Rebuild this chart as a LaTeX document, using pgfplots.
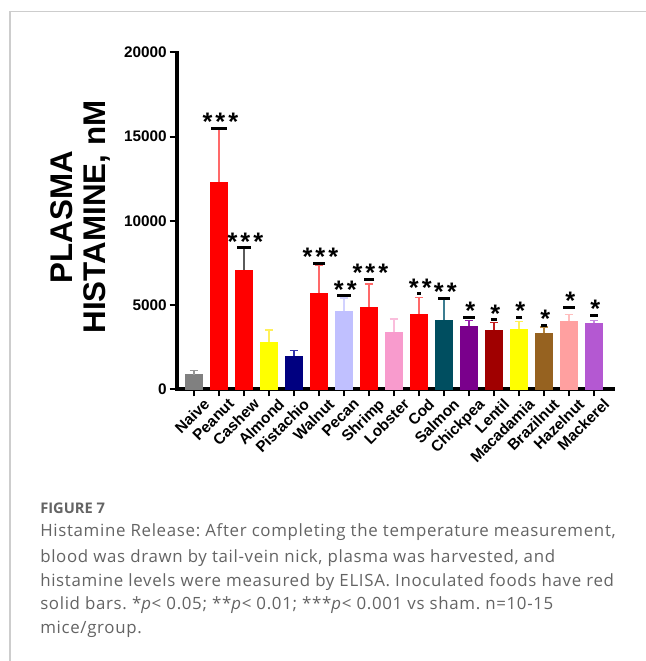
\documentclass[border=0pt]{standalone}
\usepackage{fontspec}
\setmainfont{Liberation Sans}
\newfontfamily\capfont[LetterSpace=4]{Open Sans}
\newfontfamily\capheadfont{Open Sans}
\newfontfamily\starfont[LetterSpace=12]{Liberation Sans}
\usepackage{pgfplots}
\pgfplotsset{compat=1.18}
\usepackage{pgfplotstable}
\frenchspacing

% bar fills and their error-bar tints
\definecolor{cNaive}{RGB}{128,128,128}  \definecolor{eNaive}{RGB}{150,150,150}
\definecolor{cRed}{RGB}{255,0,0}        \definecolor{eRed}{RGB}{255,105,105}
\definecolor{eCashew}{RGB}{90,90,90}
\definecolor{cYellow}{RGB}{255,255,0}   \definecolor{eYellow}{RGB}{255,240,90}
\definecolor{cNavy}{RGB}{0,0,128}       \definecolor{eNavy}{RGB}{50,50,170}
\definecolor{cPecan}{RGB}{192,192,255}  \definecolor{ePecan}{RGB}{210,210,255}
\definecolor{cLobster}{RGB}{248,155,205}\definecolor{eLobster}{RGB}{250,190,220}
\definecolor{cSalmon}{RGB}{0,78,96}     \definecolor{eSalmon}{RGB}{60,125,145}
\definecolor{cChick}{RGB}{122,0,140}    \definecolor{eChick}{RGB}{150,30,170}
\definecolor{cLentil}{RGB}{160,0,0}     \definecolor{eLentil}{RGB}{195,30,30}
\definecolor{cBrazil}{RGB}{150,98,32}   \definecolor{eBrazil}{RGB}{180,135,65}
\definecolor{cHazel}{RGB}{255,160,160}  \definecolor{eHazel}{RGB}{255,190,190}
\definecolor{cMack}{RGB}{180,88,210}    \definecolor{eMack}{RGB}{200,135,225}
\definecolor{frame}{RGB}{205,205,205}
\definecolor{captext}{RGB}{100,100,100}

% significance markers: position, half width of the dash (pt), stars
\pgfplotstableread{
x y hw s
1 15500 5.9 ***
2 8400 4.9 ***
5 7470 4.5 ***
6 5530 4.9 **
7 6520 4.1 ***
9 5650 1.4 **
10 5400 4.5 **
11 4260 4.3 *
12 4140 2.5 *
13 4260 2.5 *
14 3790 2.5 *
15 4860 4.2 *
16 4380 2.9 *
}\sigtable

% one bar with its upper error bar: x, mean, error, fill, error colour
\newcommand{\histbar}[5]{%
  \addplot[ybar, bar shift=0pt, bar width=12.5pt, fill=#4, draw=#4, line width=0.3pt,
    error bars/.cd, y dir=plus, y explicit,
    error bar style={draw=#5, line width=1.1pt},
    error mark options={draw=#5, rotate=90, mark size=3.1pt, line width=1.1pt}]
    coordinates {(#1,#2) +- (0,#3)};}

\begin{document}
\begin{tikzpicture}[x=0.75pt, y=0.75pt]
\path[use as bounding box, fill=white] (0,0) rectangle (646,661);
\draw[frame, line width=1pt] (10,0) -- (10,649.5) -- (646,649.5);

\begin{axis}[
  at={(132.75pt,204pt)}, anchor=south west,
  width=327pt, height=252.4pt, scale only axis,
  xmin=-0.68, xmax=16.76, ymin=0, ymax=20000,
  axis x line=bottom, axis y line=left,
  axis line style={-, line width=2.4pt, line cap=rect},
  tick align=outside, major tick length=5.5pt,
  every tick/.style={black, line width=1.5pt},
  xtick={0,...,16},
  xticklabels={Naive,Peanut,Cashew,Almond,Pistachio,Walnut,Pecan,Shrimp,Lobster,Cod,Salmon,Chickpea,Lentil,Macadamia,Brazilnut,Hazelnut,Mackerel},
  ytick={0,5000,10000,15000,20000},
  scaled y ticks=false,
  /pgf/number format/1000 sep={},
  /pgf/number format/assume math mode=true,
  tick label style={font=\fontsize{11.5}{12}\selectfont\bfseries},
  xticklabel style={rotate=45, anchor=north east, inner sep=0pt, xshift=4pt, yshift=-5pt},
  yticklabel style={inner sep=2pt},
  ylabel={PLASMA\\HISTAMINE, nM},
  ylabel style={align=center, font=\fontsize{23.5}{24.75}\selectfont\bfseries,
    at={(axis description cs:-0.222,0.511)}, anchor=center},
  clip=false,
]
\histbar{0}{850}{240}{cNaive}{eNaive}
\histbar{1}{12290}{3210}{cRed}{eRed}
\histbar{2}{7075}{1325}{cRed}{eCashew}
\histbar{3}{2775}{730}{cYellow}{eYellow}
\histbar{4}{1960}{320}{cNavy}{eNavy}
\histbar{5}{5690}{1670}{cRed}{eRed}
\histbar{6}{4640}{760}{cPecan}{ePecan}
\histbar{7}{4875}{1370}{cRed}{eRed}
\histbar{8}{3390}{770}{cLobster}{eLobster}
\histbar{9}{4460}{970}{cRed}{eRed}
\histbar{10}{4100}{1300}{cSalmon}{eSalmon}
\histbar{11}{3730}{340}{cChick}{eChick}
\histbar{12}{3490}{460}{cLentil}{eLentil}
\histbar{13}{3550}{450}{cYellow}{eYellow}
\histbar{14}{3330}{360}{cBrazil}{eBrazil}
\histbar{15}{4040}{400}{cHazel}{eHazel}
\histbar{16}{3920}{160}{cMack}{eMack}

% black dashes above the error bars
\addplot[scatter, only marks, mark=-, line width=2.2pt,
  scatter/use mapped color={draw=black, fill=black},
  visualization depends on={\thisrow{hw} \as \hw},
  scatter/@pre marker code/.append style={/tikz/mark size=\hw pt}]
  table[x=x, y=y] {\sigtable};

% significance stars
\addplot[only marks, mark=*, mark size=0pt, mark options={draw=none, fill=none},
  point meta=explicit symbolic,
  nodes near coords,
  nodes near coords style={anchor=base, yshift=-2pt, xshift=1pt, inner sep=0pt,
    font=\starfont\fontsize{19}{19}\selectfont\bfseries}]
  table[x=x, y=y, meta=s] {\sigtable};
\end{axis}

% figure caption
\begin{scope}[every node/.style={anchor=base west, inner sep=0pt, text=captext}]
\node[font=\capheadfont\bfseries\fontsize{11}{12}\selectfont] at (40,147) {FIGURE 7};
\node[font=\capfont\fontsize{12.65}{14}\selectfont] at (40,124) {Histamine Release: After completing the temperature measurement,};
\node[font=\capfont\fontsize{12.65}{14}\selectfont] at (40,98) {blood was drawn by tail-vein nick, plasma was harvested, and};
\node[font=\capfont\fontsize{12.65}{14}\selectfont] at (40,74) {histamine levels were measured by ELISA. Inoculated foods have red};
\node[font=\capfont\fontsize{12.65}{14}\selectfont] at (40,51) {solid bars. *\textit{p}< 0.05; **\textit{p}< 0.01; ***\textit{p}< 0.001 vs sham. n=10-15};
\node[font=\capfont\fontsize{12.65}{14}\selectfont] at (40,27) {mice/group.};
\end{scope}
\end{tikzpicture}
\end{document}
